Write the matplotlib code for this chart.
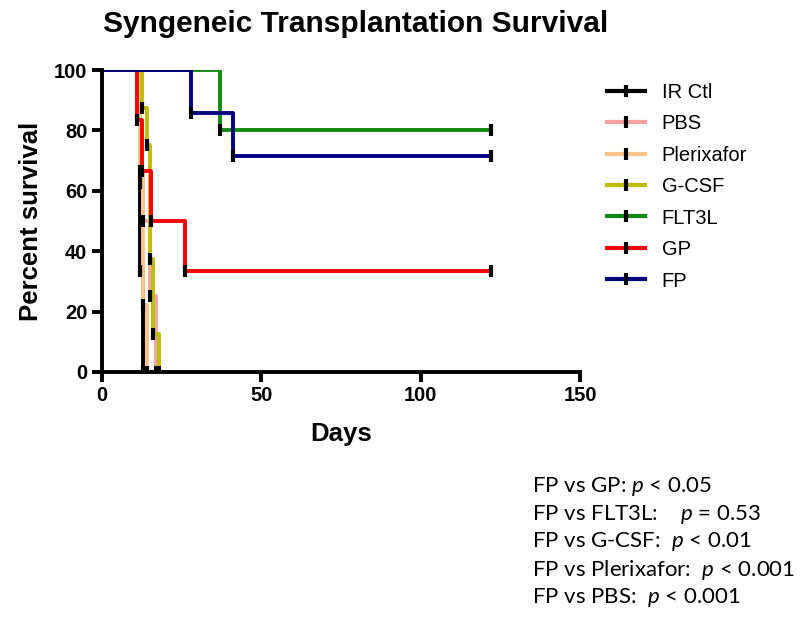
import matplotlib
matplotlib.use("Agg")
import matplotlib.pyplot as plt
from matplotlib.lines import Line2D

plt.rcParams['font.family'] = ['Liberation Sans', 'DejaVu Sans']
plt.rcParams['mathtext.fontset'] = 'custom'
plt.rcParams['mathtext.it'] = 'Lato:italic'
plt.rcParams['mathtext.rm'] = 'Lato'

# Kaplan-Meier steps (days, percent survival)
groups = ["IR Ctl", "PBS", "Plerixafor", "G-CSF", "FLT3L", "GP", "FP"]
colors = ["#000000", "#F4A3A3", "#F9C58C", "#BDBD0A", "#128A12", "#FF0000", "#00007F"]

ir_days = [0, 12, 13]
ir_surv = [100, 33.3, 0]
pbs_days = [0, 12, 13, 15, 17]
pbs_surv = [100, 62.5, 50, 25, 0]
plx_days = [0, 12, 13, 14]
plx_surv = [100, 66.7, 22.2, 0]
gcsf_days = [0, 12.5, 14, 15, 16, 18]
gcsf_surv = [100, 87.5, 75, 37.5, 12.5, 0]
flt_days = [0, 37, 122]
flt_surv = [100, 80, 80]
gp_days = [0, 11, 12.5, 15.5, 26, 122]
gp_surv = [100, 83.3, 66.7, 50, 33.3, 33.3]
fp_days = [0, 28, 41, 122]
fp_surv = [100, 85.7, 71.4, 71.4]

all_days = [ir_days, pbs_days, plx_days, gcsf_days, flt_days, gp_days, fp_days]
all_surv = [ir_surv, pbs_surv, plx_surv, gcsf_surv, flt_surv, gp_surv, fp_surv]

pvals = ["FP vs GP: $\\it{p}$ < 0.05",
         "FP vs FLT3L:    $\\it{p}$ = 0.53",
         "FP vs G-CSF:  $\\it{p}$ < 0.01",
         "FP vs Plerixafor:  $\\it{p}$ < 0.001",
         "FP vs PBS:  $\\it{p}$ < 0.001"]

fig = plt.figure(figsize=(8, 6.25), dpi=100)
ax = fig.add_axes([0.1275, 0.405, 0.5975, 0.483])

for d, s, c in zip(all_days, all_surv, colors):
    ax.step(d, s, where='post', color=c, lw=2.8, solid_capstyle='butt', zorder=2)
    ax.plot(d[1:], s[1:], ls='none', marker='|', ms=9, mew=3, color='black', zorder=3)

ax.set_xlim(0, 150)
ax.set_ylim(0, 100)
ax.set_xticks([0, 50, 100, 150])
ax.set_yticks([0, 20, 40, 60, 80, 100])
for sp in ['top', 'right']:
    ax.spines[sp].set_visible(False)
for sp in ['left', 'bottom']:
    ax.spines[sp].set_linewidth(2.8)
    ax.spines[sp].set_zorder(4)
ax.tick_params(width=2.8, length=7, labelsize=14.5, direction='out')
for lab in ax.get_xticklabels() + ax.get_yticklabels():
    lab.set_fontweight('bold')
ax.set_xlabel("Days", fontsize=18.5, fontweight='bold', labelpad=12)
ax.set_ylabel("Percent survival", fontsize=18.5, fontweight='bold', labelpad=8)
fig.text(0.445, 0.962, "Syngeneic Transplantation Survival", fontsize=21.5,
         fontweight='bold', ha='center', va='center')

handles = [Line2D([0], [0], color=c, lw=3, marker='|', ms=9, mew=3, mec='black')
           for c in colors]
ax.legend(handles, groups, loc='upper left', bbox_to_anchor=(1.04, 0.985),
          frameon=False, fontsize=14.5, handlelength=1.9, handletextpad=0.8,
          labelspacing=0.62, borderaxespad=0, numpoints=1)

for i, t in enumerate(pvals):
    fig.text(0.665, 0.222 - i * 0.0445, t, fontsize=16, family=['Lato', 'DejaVu Sans'],
             ha='left', va='center')

fig.savefig("out.png", dpi=100)
